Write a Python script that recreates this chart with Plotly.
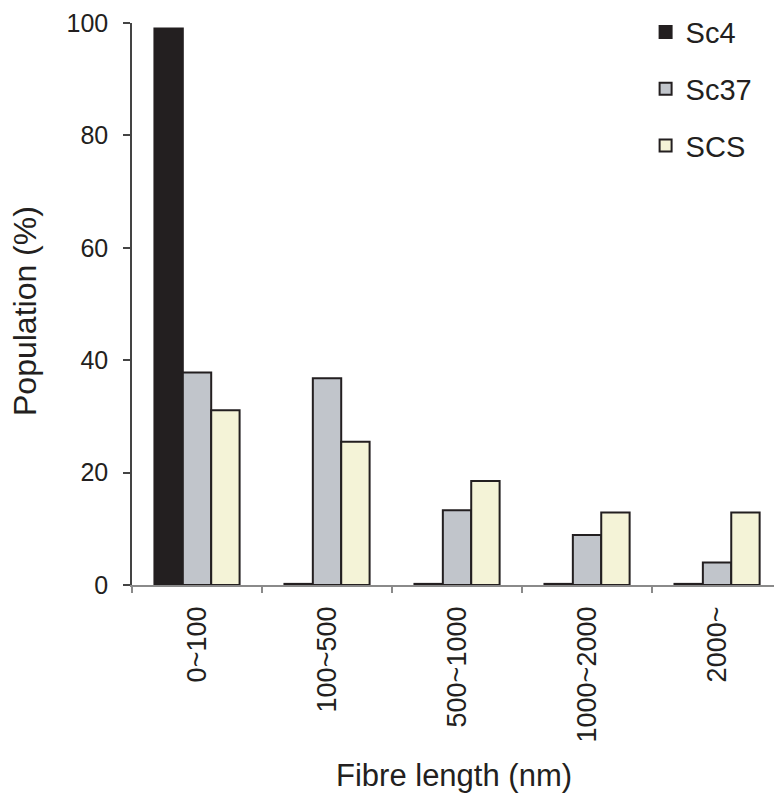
import plotly.graph_objects as go

categories = ["0~100", "100~500", "500~1000", "1000~2000", "2000~"]
sc4 = [99.0, 0.2, 0.2, 0.2, 0.2]
sc37 = [37.8, 36.8, 13.3, 8.9, 4.0]
scs = [31.1, 25.5, 18.5, 12.9, 12.9]
y_ticks = [0, 20, 40, 60, 80, 100]

ink = "#231f20"
font_family = "Liberation Sans, Arial, Helvetica, sans-serif"

fig = go.Figure()
for name, vals, color in [("Sc4", sc4, ink), ("Sc37", sc37, "#c1c5cb"), ("SCS", scs, "#f4f3d7")]:
    fig.add_trace(go.Bar(
        x=categories, y=vals, name=name, legendgroup=name,
        marker=dict(color=color, line=dict(color=ink, width=2)),
    ))

fig.update_layout(
    width=774, height=796,
    margin=dict(l=132, r=0, t=23, b=211, autoexpand=False),
    paper_bgcolor="white", plot_bgcolor="white",
    barmode="group", bargap=0.345, bargroupgap=0,
    font=dict(family=font_family, color=ink),
    showlegend=True,
    legend=dict(
        x=0.80, y=1.029, xanchor="left", yanchor="top",
        font=dict(size=29, color=ink),
        bgcolor="rgba(0,0,0,0)", tracegroupgap=16,
        traceorder="grouped",
    ),
    xaxis=dict(
        range=[-0.5, 4.438], tickson="boundaries",
        ticks="outside", ticklen=6, tickcolor="#8a8a8a", tickwidth=1.5,
        showline=True, linecolor="#8a8a8a", linewidth=1.5,
        tickangle=-90, tickfont=dict(size=27, color=ink), ticklabelstandoff=9,
        showgrid=False, zeroline=False, automargin=False,
    ),
    yaxis=dict(
        range=[0, 100], tickvals=y_ticks,
        ticks="outside", ticklen=7, tickcolor="#444", tickwidth=1.5,
        showline=True, linecolor="#444", linewidth=1.5,
        tickfont=dict(size=25, color=ink), ticklabelstandoff=10,
        showgrid=False, zeroline=False, automargin=False,
    ),
    annotations=[
        dict(text="Population (%)", xref="paper", yref="paper",
             x=-0.1667, y=0.4875, xanchor="center", yanchor="middle",
             textangle=-90, showarrow=False, font=dict(size=32, color=ink)),
        dict(text="Fibre length (nm)", xref="paper", yref="paper",
             x=(454 - 132) / 642, y=(585 - 775) / 562, xanchor="center", yanchor="middle",
             showarrow=False, font=dict(size=31, color=ink)),
    ],
)

fig.write_html(
    "out.html",
    config={"displayModeBar": False},
    post_script="document.body.style.margin='0';document.body.style.padding='0';",
)
